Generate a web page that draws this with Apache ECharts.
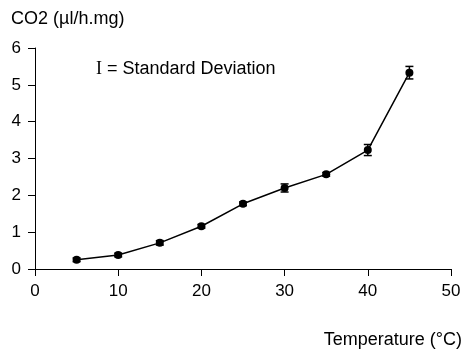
<!DOCTYPE html>
<html><head><meta charset="utf-8">
<script src="https://cdn.jsdelivr.net/npm/echarts@6/dist/echarts.min.js"></script>
<style>html,body{margin:0;padding:0;background:#fff}#c{width:464px;height:351px}</style>
</head><body><div id="c"></div>
<script>
const temperatures = [5, 10, 15, 20, 25, 30, 35, 40, 45];
const co2Values = [0.25, 0.38, 0.71, 1.16, 1.77, 2.2, 2.57, 3.23, 5.33];
const stdDevs = [0.05, 0.05, 0.06, 0.05, 0.05, 0.11, 0.05, 0.15, 0.17];
const xTicks = [0, 10, 20, 30, 40, 50];
const yTicks = [0, 1, 2, 3, 4, 5, 6];

const FONT = '"Liberation Sans", Arial, sans-serif';
const chart = echarts.init(document.getElementById('c'), null, {renderer: 'canvas'});
const lineData = temperatures.map((t, i) => [t, co2Values[i]]);
const errData = temperatures.map((t, i) => [t, co2Values[i] - stdDevs[i], co2Values[i] + stdDevs[i]]);

chart.setOption({
  animation: false,
  grid: {left: 35, right: 13, top: 48, bottom: 82},
  xAxis: {
    type: 'value', min: xTicks[0], max: xTicks[xTicks.length - 1], interval: 10,
    axisLine: {show: true, onZero: false, lineStyle: {color: '#000', width: 1}},
    axisTick: {show: true, length: 7, lineStyle: {color: '#000'}},
    axisLabel: {color: '#000', fontSize: 17, fontFamily: FONT, margin: 14},
    splitLine: {show: false}
  },
  yAxis: {
    type: 'value', min: yTicks[0], max: yTicks[yTicks.length - 1], interval: 1,
    name: 'CO2 (µl/h.mg)', nameLocation: 'end', nameGap: 29,
    nameTextStyle: {color: '#000', fontSize: 18, fontFamily: FONT, align: 'left', verticalAlign: 'middle', padding: [0, 0, 0, -24]},
    axisLine: {show: true, lineStyle: {color: '#000', width: 1}},
    axisTick: {show: true, length: 7, lineStyle: {color: '#000'}},
    axisLabel: {color: '#000', fontSize: 17, fontFamily: FONT, margin: 14},
    splitLine: {show: false}
  },
  graphic: [
    {type: 'text', right: 2, top: 331, style: {text: 'Temperature (°C)', fill: '#000', font: '18px ' + FONT}},
    {type: 'text', left: 96, top: 60, style: {text: 'I', fill: '#000', font: '18px "Liberation Serif", "DejaVu Serif", serif'}},
    {type: 'text', left: 107, top: 60, style: {text: '= Standard Deviation', fill: '#000', font: '18px ' + FONT}}
  ],
  series: [
    {
      type: 'line', data: lineData, symbol: 'circle', symbolSize: 8,
      itemStyle: {color: '#000'}, lineStyle: {color: '#000', width: 1.5}, z: 3
    },
    {
      type: 'custom', data: errData, z: 4,
      renderItem: function (params, api) {
        const x = api.value(0);
        const lo = api.coord([x, api.value(1)]);
        const hi = api.coord([x, api.value(2)]);
        const w = 4;
        const st = {stroke: '#000', lineWidth: 1.5};
        return {type: 'group', children: [
          {type: 'line', shape: {x1: lo[0], y1: lo[1], x2: hi[0], y2: hi[1]}, style: st},
          {type: 'line', shape: {x1: lo[0] - w, y1: lo[1], x2: lo[0] + w, y2: lo[1]}, style: st},
          {type: 'line', shape: {x1: hi[0] - w, y1: hi[1], x2: hi[0] + w, y2: hi[1]}, style: st}
        ]};
      }
    }
  ]
});
</script></body></html>
